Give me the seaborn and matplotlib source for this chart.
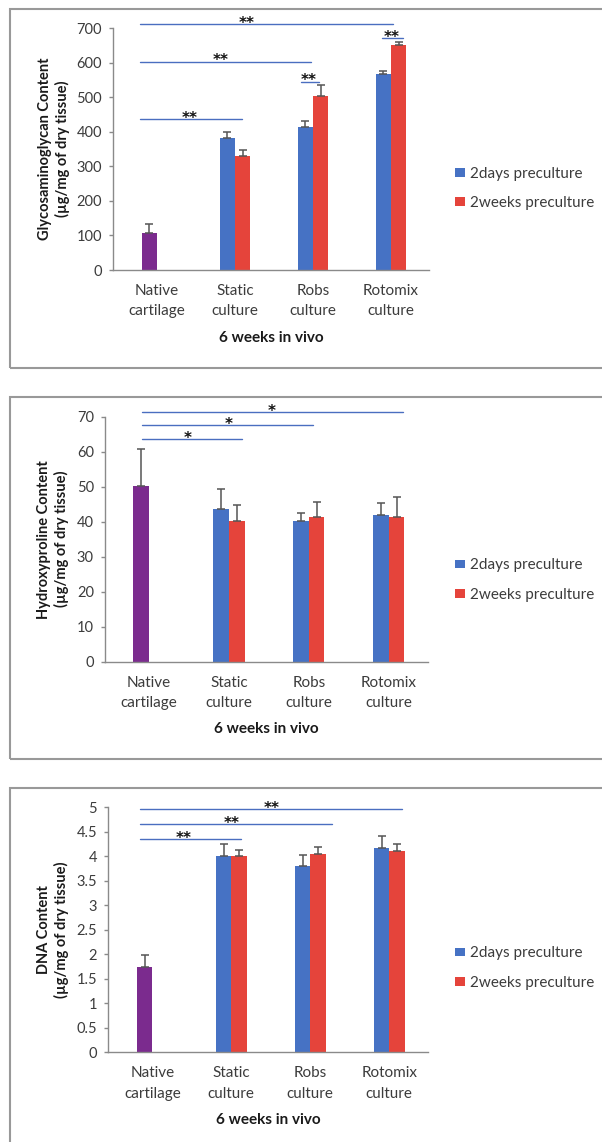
import numpy as np
import pandas as pd
import matplotlib
matplotlib.use("Agg")
import matplotlib.pyplot as plt
from matplotlib.patches import Patch, Rectangle
from matplotlib.container import BarContainer
from matplotlib.ticker import MultipleLocator, FuncFormatter
import seaborn as sns

# ---------------------------------------------------------------- data
categories = ["Native\ncartilage", "Static\nculture", "Robs\nculture", "Rotomix\nculture"]
series = ["2days preculture", "2weeks preculture"]

# Native cartilage has a single value; it occupies the first slot of its cluster
gag_2days = [108, 381, 415, 568]
gag_2days_sd = [24, 19, 17, 8]
gag_2weeks = [np.nan, 330, 505, 651]
gag_2weeks_sd = [np.nan, 17, 31, 8]

hyp_2days = [50.2, 43.6, 40.1, 41.8]
hyp_2days_sd = [10.5, 5.8, 2.5, 3.6]
hyp_2weeks = [np.nan, 40.1, 41.3, 41.3]
hyp_2weeks_sd = [np.nan, 4.6, 4.3, 5.7]

dna_2days = [1.75, 4.01, 3.80, 4.16]
dna_2days_sd = [0.24, 0.24, 0.23, 0.25]
dna_2weeks = [np.nan, 4.01, 4.05, 4.11]
dna_2weeks_sd = [np.nan, 0.12, 0.15, 0.14]

# significance brackets: (x start, x end, level, label, label x)
gag_sig = [(-0.218, 1.086, 437, "**", 0.423),
           (-0.218, 1.974, 603, "**", 0.817),
           (-0.218, 3.026, 712, "**", 1.150),
           (1.842, 2.081, 545, "**", 1.940),
           (2.889, 3.158, 671, "**", 3.009)]
hyp_sig = [(-0.091, 1.159, 63.6, "*", 0.484),
           (-0.091, 2.054, 67.6, "*", 0.991),
           (-0.091, 3.179, 71.3, "*", 1.534)]
dna_sig = [(-0.156, 1.119, 4.35, "**", 0.392),
           (-0.156, 2.271, 4.65, "**", 1.005),
           (-0.156, 3.157, 4.96, "**", 1.511)]

# ---------------------------------------------------------------- style
W, H = 602, 1142
sns.set_style("white")
plt.rcParams["font.family"] = ["Lato", "DejaVu Sans"]

BLUE = "#4672C4"
RED = "#E5443B"
PURPLE = "#7B2B8E"
LINE_BLUE = "#4A6EC0"
AXIS_GREY = "#8A8A8A"
TEXT = "#3c3c3c"
TITLE = "#1a1a1a"

fig = plt.figure(figsize=(W / 100, H / 100), dpi=100)


def px_axes(left, top, right, bottom):
    return fig.add_axes([left / W, 1 - bottom / H, (right - left) / W, (bottom - top) / H])


def fmt_tick(v, _):
    return f"{v:g}"


def draw_panel(ax, vals1, sd1, vals2, sd2, ylim, ystep, xlim, ylabel, sig,
               ylabel_px, axes_px, legend_y):
    rows = []
    for cat, v in zip(categories, vals1):
        if not np.isnan(v):
            rows.append((cat, series[0], v))
    for cat, v in zip(categories, vals2):
        if not np.isnan(v):
            rows.append((cat, series[1], v))
    df = pd.DataFrame(rows, columns=["group", "series", "value"])

    sns.barplot(data=df, x="group", y="value", hue="series", order=categories,
                hue_order=series, palette=[BLUE, RED], saturation=1,
                width=0.39, errorbar=None, linewidth=0, legend=False, ax=ax)

    sds = [sd1, sd2]
    bar_sets = [c for c in ax.containers if isinstance(c, BarContainer)]
    for k, cont in enumerate(bar_sets):
        for p in cont.patches:
            cx = p.get_x() + p.get_width() / 2
            ci = int(round(cx))
            h = p.get_height()
            if k == 0 and ci == 0:
                p.set_facecolor(PURPLE)
            ax.errorbar(cx, h, yerr=[[0], [sds[k][ci]]], fmt="none",
                        ecolor="#555555", elinewidth=1.1, capsize=3,
                        capthick=1.1, zorder=3)

    ax.set_xlim(*xlim)
    ax.set_ylim(*ylim)
    ax.yaxis.set_major_locator(MultipleLocator(ystep))
    ax.yaxis.set_major_formatter(FuncFormatter(fmt_tick))
    for s in ["top", "right"]:
        ax.spines[s].set_visible(False)
    for s in ["left", "bottom"]:
        ax.spines[s].set_color(AXIS_GREY)
        ax.spines[s].set_linewidth(1.0)
    ax.tick_params(axis="y", length=3, width=1, color=AXIS_GREY, labelsize=10.5,
                   labelcolor=TEXT, pad=5, left=True)
    ax.tick_params(axis="x", length=0, labelsize=11, labelcolor=TEXT, pad=10)
    for t in ax.get_xticklabels():
        t.set_linespacing(1.6)

    left, top, right, bottom = axes_px
    ax.set_ylabel(ylabel, fontsize=10.5, fontweight="bold", color=TITLE,
                  linespacing=1.25)
    ax.yaxis.set_label_coords((ylabel_px - left) / (right - left), 0.5)
    ax.yaxis.label.set_verticalalignment("center")

    ax.set_xlabel("6 weeks in vivo", fontsize=11, fontweight="bold", color=TITLE)
    ax.xaxis.set_label_coords(0.5, -67.5 / (bottom - top))
    ax.xaxis.label.set_verticalalignment("center")

    for x0, x1, y, lab, lx in sig:
        ax.plot([x0, x1], [y, y], color=LINE_BLUE, lw=1.0, clip_on=False, zorder=4)
        ax.annotate(lab, (lx, y), xytext=(0, -2.5), textcoords="offset points",
                    ha="center", va="baseline", fontsize=11, fontweight="bold",
                    family="DejaVu Sans", color="#111111",
                    annotation_clip=False, zorder=5)

    handles = [Patch(facecolor=BLUE, edgecolor="none"),
               Patch(facecolor=RED, edgecolor="none")]
    fig.legend(handles, series, loc="center left",
               bbox_to_anchor=(455 / W, 1 - legend_y / H),
               bbox_transform=fig.transFigure, frameon=False, fontsize=11,
               labelcolor=TEXT, handlelength=0.65, handleheight=0.5,
               handletextpad=0.3, labelspacing=1.0, borderpad=0,
               borderaxespad=0)


# panel frames
for top, bottom in [(9, 368), (397, 759), (788, 1165)]:
    fig.add_artist(Rectangle((10 / W, 1 - bottom / H), 1.1, (bottom - top) / H,
                             transform=fig.transFigure, fill=False,
                             edgecolor="#999999", linewidth=1.5))

p1 = (113, 28.3, 429, 270)
ax1 = px_axes(*p1)
draw_panel(ax1, gag_2days, gag_2days_sd, gag_2weeks, gag_2weeks_sd,
           (0, 700), 100, (-0.564, 3.487),
           "Glycosaminoglycan Content\n(µg/mg of dry tissue)", gag_sig,
           54, p1, 188.5)

p2 = (105, 416.7, 428, 661.7)
ax2 = px_axes(*p2)
draw_panel(ax2, hyp_2days, hyp_2days_sd, hyp_2weeks, hyp_2weeks_sd,
           (0, 70), 10, (-0.55, 3.49),
           "Hydroxyproline Content\n(µg/mg of dry tissue)", hyp_sig,
           53, p2, 580)

p3 = (108.3, 807.3, 428, 1052.3)
ax3 = px_axes(*p3)
draw_panel(ax3, dna_2days, dna_2days_sd, dna_2weeks, dna_2weeks_sd,
           (0, 5), 0.5, (-0.557, 3.49),
           "DNA Content\n(µg/mg of dry tissue)", dna_sig,
           53, p3, 968)

fig.savefig("out.png", dpi=100, facecolor="white")
